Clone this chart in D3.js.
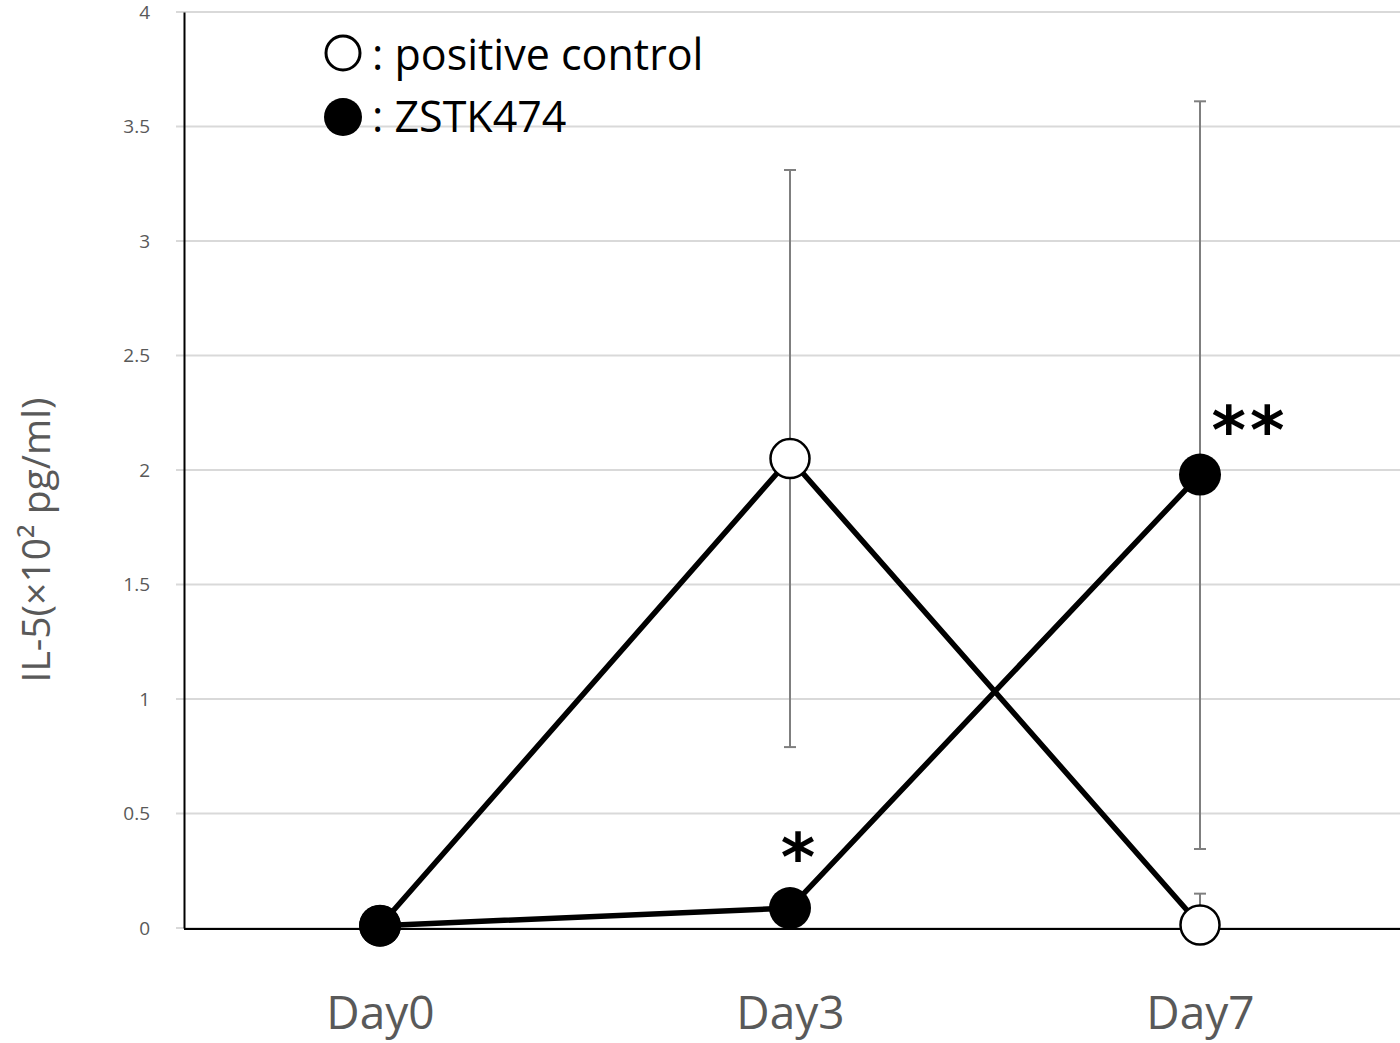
<!DOCTYPE html>
<html>
<head>
<meta charset="utf-8">
<script src="https://cdn.jsdelivr.net/npm/d3@7"></script>
<style>
  body { margin: 0; background: #fff; }
  svg text { font-family: "Open Sans", "Noto Sans", sans-serif; }
</style>
</head>
<body>
<div id="chart"></div>
<script>
// data
const days = ['Day0', 'Day3', 'Day7'];
const controlValues = [0.01, 2.05, 0.013];
const controlErrLow = [null, 0.79, null];
const controlErrHigh = [null, 3.31, 0.15];
const zstkValues = [0.01, 0.087, 1.98];
const zstkErrLow = [null, null, 0.345];
const zstkErrHigh = [null, null, 3.61];
const yTicks = [0, 0.5, 1, 1.5, 2, 2.5, 3, 3.5, 4];
const marks = [{ day: 'Day3', value: 0.087, text: '*' }, { day: 'Day7', value: 1.98, text: '**' }];

const width = 1400;
const height = 1043;

const svg = d3.select('#chart')
    .append('svg')
    .attr('width', width)
    .attr('height', height);

const y = d3.scaleLinear().domain([0, 4]).range([928, 12]);
const x = d3.scalePoint().domain(days).range([380, 1200]);

// gridlines
svg.append('g')
    .selectAll('line')
    .data(yTicks)
    .enter()
    .append('line')
    .attr('x1', 176)
    .attr('x2', width)
    .attr('y1', d => y(d))
    .attr('y2', d => y(d))
    .style('stroke', '#d9d9d9')
    .style('stroke-width', 2);

// y axis
const yAxis = svg.append('g')
    .attr('transform', 'translate(184,0)')
    .call(d3.axisLeft(y).tickValues(yTicks).tickSize(0).tickPadding(34).tickFormat(d => d));
yAxis.select('.domain').style('stroke', '#000').style('stroke-width', 2);
yAxis.selectAll('text')
    .style('font-size', '19px')
    .style('fill', '#595959');

// x axis
const xAxis = svg.append('g')
    .attr('transform', `translate(0,${y(0) + 1})`)
    .call(d3.axisBottom(x).tickSize(0).tickPadding(67));
xAxis.select('.domain').attr('d', `M184,0H${width}`).style('stroke', '#000').style('stroke-width', 2);
xAxis.selectAll('text')
    .style('font-size', '46px')
    .style('fill', '#595959');

// y title
svg.append('text')
    .attr('transform', 'translate(50,540) rotate(-90)')
    .attr('text-anchor', 'middle')
    .style('font-size', '39px')
    .style('fill', '#595959')
    .text('IL-5(×10² pg/ml)');

// error bars
function errorBars(values, lows, highs) {
    const g = svg.append('g').style('stroke', '#7f7f7f').style('stroke-width', 2);
    days.forEach((d, i) => {
        if (highs[i] != null) {
            g.append('line').attr('x1', x(d)).attr('x2', x(d))
                .attr('y1', y(values[i])).attr('y2', y(highs[i]));
            g.append('line').attr('x1', x(d) - 6).attr('x2', x(d) + 6)
                .attr('y1', y(highs[i])).attr('y2', y(highs[i]));
        }
        if (lows[i] != null) {
            g.append('line').attr('x1', x(d)).attr('x2', x(d))
                .attr('y1', y(values[i])).attr('y2', y(lows[i]));
            g.append('line').attr('x1', x(d) - 6).attr('x2', x(d) + 6)
                .attr('y1', y(lows[i])).attr('y2', y(lows[i]));
        }
    });
}
errorBars(controlValues, controlErrLow, controlErrHigh);
errorBars(zstkValues, zstkErrLow, zstkErrHigh);

const line = d3.line().x((d, i) => x(days[i])).y(d => y(d));

svg.append('path')
    .datum(controlValues)
    .attr('d', line)
    .style('fill', 'none')
    .style('stroke', '#000')
    .style('stroke-width', 5.5);

svg.append('path')
    .datum(zstkValues)
    .attr('d', line)
    .style('fill', 'none')
    .style('stroke', '#000')
    .style('stroke-width', 5.5);

svg.append('g')
    .selectAll('circle')
    .data(controlValues)
    .enter()
    .append('circle')
    .attr('cx', (d, i) => x(days[i]))
    .attr('cy', d => y(d))
    .attr('r', 19.5)
    .style('fill', '#fff')
    .style('stroke', '#000')
    .style('stroke-width', 2.5);

svg.append('g')
    .selectAll('circle')
    .data(zstkValues)
    .enter()
    .append('circle')
    .attr('cx', (d, i) => x(days[i]))
    .attr('cy', d => y(d))
    .attr('r', 21)
    .style('fill', '#000');

// significance marks
svg.append('g')
    .selectAll('text')
    .data(marks)
    .enter()
    .append('text')
    .attr('x', d => x(d.day) + (d.text.length > 1 ? 50 : 10))
    .attr('y', d => y(d.value) - (d.text.length > 1 ? 22 : 28))
    .attr('text-anchor', 'middle')
    .style('font-family', '"DejaVu Sans", sans-serif')
    .style('font-weight', 'bold')
    .style('font-size', '66px')
    .style('letter-spacing', '4px')
    .style('fill', '#000')
    .text(d => d.text);

// legend
const legend = svg.append('g');
legend.append('circle').attr('cx', 343).attr('cy', 53).attr('r', 17)
    .style('fill', '#fff').style('stroke', '#000').style('stroke-width', 3);
legend.append('text').attr('x', 372).attr('y', 70)
    .style('font-size', '43px').style('fill', '#000').text(': positive control');
legend.append('circle').attr('cx', 343).attr('cy', 117).attr('r', 19)
    .style('fill', '#000');
legend.append('text').attr('x', 372).attr('y', 132)
    .style('font-size', '43px').style('fill', '#000').text(': ZSTK474');
</script>
</body>
</html>
